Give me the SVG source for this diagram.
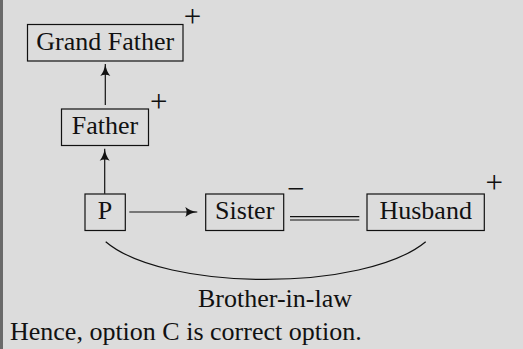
<svg xmlns="http://www.w3.org/2000/svg" width="523" height="349" viewBox="0 0 523 349">
<style>
text{font-family:"Liberation Serif","DejaVu Serif",serif;font-size:26px;fill:#111}
.s{font-size:31px}
.box{fill:none;stroke:#111;stroke-width:1.2}
.ln{fill:none;stroke:#111;stroke-width:1.2}
.c{text-anchor:middle}
</style>
<defs>
<marker id="ah" viewBox="0 0 12 12" refX="12" refY="6" markerWidth="12" markerHeight="12" markerUnits="userSpaceOnUse" orient="auto">
<path d="M0,1 Q5,5 12,6 Q5,7 0,11 Q2.5,6 0,1Z" fill="#111"/>
</marker>
</defs>
<rect width="523" height="349" fill="#dcdcdc"/>
<rect x="0" y="0" width="3" height="349" fill="#6a6a6a"/>
<g id="grandfather">
<rect class="box" x="27.5" y="24.5" width="155.5" height="36.5"/>
<text class="c" x="105.3" y="49.5">Grand Father</text>
<text class="c s" x="192.5" y="27">+</text>
</g>
<g id="father">
<rect class="box" x="61.5" y="109" width="87" height="36.5"/>
<text class="c" x="105" y="134">Father</text>
<text class="c s" x="158.7" y="112">+</text>
</g>
<g id="p">
<rect class="box" x="85" y="194" width="40.3" height="36.5"/>
<text class="c" x="105" y="219">P</text>
</g>
<g id="sister">
<rect class="box" x="205.7" y="194" width="78" height="36.5"/>
<text class="c" x="244.7" y="219">Sister</text>
<text class="c s" x="295.7" y="199">−</text>
</g>
<g id="husband">
<rect class="box" x="367" y="194" width="117.3" height="36.5"/>
<text class="c" x="425.7" y="219">Husband</text>
<text class="c s" x="494.3" y="192.7">+</text>
</g>
<g id="connectors">
<line class="ln" x1="105.3" y1="105" x2="105.3" y2="64" marker-end="url(#ah)"/>
<line class="ln" x1="104.7" y1="193.7" x2="104.7" y2="148.7" marker-end="url(#ah)"/>
<line class="ln" x1="129.3" y1="212" x2="197.3" y2="212" marker-end="url(#ah)"/>
<line class="ln" x1="290" y1="216.7" x2="359.3" y2="216.7"/>
<line class="ln" x1="290" y1="220" x2="359.3" y2="220"/>
<path class="ln" d="M105.7,241.7 C165,292 365,292 425.7,241.7"/>
<text class="c" x="275" y="307">Brother-in-law</text>
</g>
<text x="10" y="340">Hence, option C is correct option.</text>
</svg>
